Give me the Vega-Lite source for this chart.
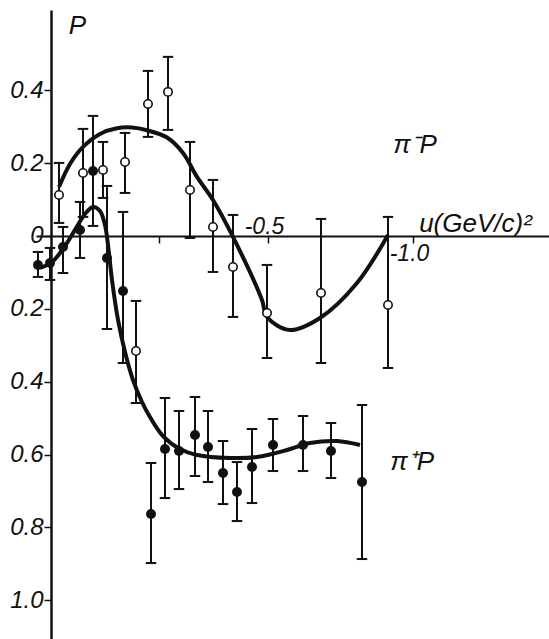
{
  "$schema": "https://vega.github.io/schema/vega-lite/v6.json",
  "width": 513,
  "height": 629,
  "autosize": "none",
  "padding": {"left": 36, "top": 10, "right": 0, "bottom": 0},
  "background": "white",
  "config": {"view": {"stroke": null}, "font": "Liberation Sans"},
  "datasets": {
    "points": [
      {"series": "minus", "u": 0.2207, "P": 0.1125, "hi": 0.2004, "lo": 0.0357},
      {"series": "minus", "u": 0.1379, "P": 0.1729, "hi": 0.2937, "lo": 0.0522},
      {"series": "minus", "u": 0.069, "P": 0.1812, "hi": 0.258, "lo": 0.1043},
      {"series": "minus", "u": -0.0069, "P": 0.2031, "hi": 0.2827, "lo": 0.118},
      {"series": "minus", "u": -0.0862, "P": 0.3623, "hi": 0.4529, "lo": 0.2718},
      {"series": "minus", "u": -0.1552, "P": 0.3953, "hi": 0.4914, "lo": 0.291},
      {"series": "minus", "u": -0.231, "P": 0.1263, "hi": 0.258, "lo": -0.0055},
      {"series": "minus", "u": -0.3103, "P": 0.0247, "hi": 0.1537, "lo": -0.0988},
      {"series": "minus", "u": -0.3793, "P": -0.0851, "hi": 0.0576, "lo": -0.2223},
      {"series": "minus", "u": -0.4966, "P": -0.2114, "hi": -0.0796, "lo": -0.3349},
      {"series": "minus", "u": -0.6828, "P": -0.1565, "hi": 0.0467, "lo": -0.3486},
      {"series": "minus", "u": -0.9138, "P": -0.1894, "hi": 0.0522, "lo": -0.3623},
      {"series": "minus", "u": -0.0448, "P": -0.3157, "hi": -0.1784, "lo": -0.4584},
      {"series": "plus", "u": 0.2931, "P": -0.0796, "hi": -0.0439, "lo": -0.1125},
      {"series": "plus", "u": 0.2517, "P": -0.0741, "hi": -0.0329, "lo": -0.1208},
      {"series": "plus", "u": 0.2069, "P": -0.0302, "hi": 0.0247, "lo": -0.1016},
      {"series": "plus", "u": 0.1483, "P": 0.0165, "hi": 0.0933, "lo": -0.0604},
      {"series": "plus", "u": 0.1034, "P": 0.1784, "hi": 0.3294, "lo": 0.0274},
      {"series": "plus", "u": 0.0552, "P": -0.0604, "hi": 0.1372, "lo": -0.2553},
      {"series": "plus", "u": 0.0, "P": -0.151, "hi": 0.0659, "lo": -0.3486},
      {"series": "plus", "u": -0.0966, "P": -0.7631, "hi": -0.6231, "lo": -0.8976},
      {"series": "plus", "u": -0.1448, "P": -0.5847, "hi": -0.4447, "lo": -0.7192},
      {"series": "plus", "u": -0.1931, "P": -0.5902, "hi": -0.4804, "lo": -0.6945},
      {"series": "plus", "u": -0.2483, "P": -0.5463, "hi": -0.4419, "lo": -0.6588},
      {"series": "plus", "u": -0.2931, "P": -0.5792, "hi": -0.4804, "lo": -0.6753},
      {"series": "plus", "u": -0.3448, "P": -0.6506, "hi": -0.5627, "lo": -0.7357},
      {"series": "plus", "u": -0.3931, "P": -0.7027, "hi": -0.6204, "lo": -0.7823},
      {"series": "plus", "u": -0.4448, "P": -0.6341, "hi": -0.5298, "lo": -0.7329},
      {"series": "plus", "u": -0.5172, "P": -0.5737, "hi": -0.5023, "lo": -0.6451},
      {"series": "plus", "u": -0.6207, "P": -0.5737, "hi": -0.4941, "lo": -0.6451},
      {"series": "plus", "u": -0.7172, "P": -0.5902, "hi": -0.5133, "lo": -0.6643},
      {"series": "plus", "u": -0.8241, "P": -0.6753, "hi": -0.4639, "lo": -0.8866}
    ],
    "fits": [
      {"series": "minus", "u": 0.2207, "P": 0.1345},
      {"series": "minus", "u": 0.1828, "P": 0.1975},
      {"series": "minus", "u": 0.1379, "P": 0.2443},
      {"series": "minus", "u": 0.0793, "P": 0.2800},
      {"series": "minus", "u": 0.0207, "P": 0.2955},
      {"series": "minus", "u": -0.031, "P": 0.2975},
      {"series": "minus", "u": -0.0828, "P": 0.2900},
      {"series": "minus", "u": -0.1517, "P": 0.2700},
      {"series": "minus", "u": -0.2069, "P": 0.2278},
      {"series": "minus", "u": -0.2552, "P": 0.162},
      {"series": "minus", "u": -0.3103, "P": 0.0988},
      {"series": "minus", "u": -0.3793, "P": -0.0027},
      {"series": "minus", "u": -0.4793, "P": -0.1757},
      {"series": "minus", "u": -0.4966, "P": -0.2223},
      {"series": "minus", "u": -0.5759, "P": -0.258},
      {"series": "minus", "u": -0.6793, "P": -0.2251},
      {"series": "minus", "u": -0.8069, "P": -0.129},
      {"series": "minus", "u": -0.9138, "P": 0.0027},
      {"series": "plus", "u": 0.2862, "P": -0.0878},
      {"series": "plus", "u": 0.2448, "P": -0.0714},
      {"series": "plus", "u": 0.2069, "P": -0.0357},
      {"series": "plus", "u": 0.1655, "P": 0.0165},
      {"series": "plus", "u": 0.131, "P": 0.0604},
      {"series": "plus", "u": 0.1034, "P": 0.0796},
      {"series": "plus", "u": 0.0793, "P": 0.0686},
      {"series": "plus", "u": 0.0621, "P": 0.0302},
      {"series": "plus", "u": 0.0517, "P": -0.0247},
      {"series": "plus", "u": 0.0379, "P": -0.1208},
      {"series": "plus", "u": 0.0172, "P": -0.2306},
      {"series": "plus", "u": -0.0069, "P": -0.3184},
      {"series": "plus", "u": -0.0345, "P": -0.3953},
      {"series": "plus", "u": -0.0655, "P": -0.4557},
      {"series": "plus", "u": -0.0931, "P": -0.4968},
      {"series": "plus", "u": -0.1379, "P": -0.549},
      {"series": "plus", "u": -0.1966, "P": -0.5847},
      {"series": "plus", "u": -0.2552, "P": -0.6012},
      {"series": "plus", "u": -0.369, "P": -0.6094},
      {"series": "plus", "u": -0.4621, "P": -0.6066},
      {"series": "plus", "u": -0.5655, "P": -0.5874},
      {"series": "plus", "u": -0.6448, "P": -0.5682},
      {"series": "plus", "u": -0.7379, "P": -0.5627},
      {"series": "plus", "u": -0.8172, "P": -0.5737}
    ],
    "labels": [
      {"label": "π⁻P", "u": -1.007, "P": 0.25},
      {"label": "π⁺P", "u": -0.997, "P": -0.62}
    ]
  },
  "encoding": {
    "x": {
      "field": "u",
      "type": "quantitative",
      "scale": {"domain": [-1.469, 0.3], "reverse": true, "nice": false, "zero": false},
      "axis": {
        "orient": "bottom",
        "offset": -403,
        "values": [-1, -0.5, -0.124],
        "labelExpr": "datum.value == -0.5 ? '-0.5' : (datum.value == -1 ? '-1.0' : '')",
        "grid": false,
        "domainColor": "#111",
        "domainWidth": 2,
        "tickColor": "#111",
        "tickWidth": 1.5,
        "tickSize": 7,
        "labelFont": "Liberation Sans",
        "labelFontStyle": "italic",
        "labelFontSize": 23,
        "labelColor": "#111",
        "labelPadding": {"condition": {"test": "datum.value == -0.5", "value": -28}, "value": -1},
        "labelOffset": -4,
        "labelFlush": false,
        "labelOverlap": false,
        "title": "u(GeV/c)²",
        "titleX": 439,
        "titleY": -5,
        "titleAlign": "center",
        "titleBaseline": "alphabetic",
        "titleFont": "Liberation Sans",
        "titleFontStyle": "italic",
        "titleFontWeight": "normal",
        "titleFontSize": 26,
        "titleColor": "#111"
      }
    },
    "y": {
      "field": "P",
      "type": "quantitative",
      "scale": {"domain": [-1.106, 0.62], "nice": false, "zero": false},
      "axis": {
        "orient": "left",
        "offset": -15,
        "values": [-1, -0.8, -0.6, -0.4, -0.2, 0, 0.2, 0.4],
        "labelExpr": "datum.value == 0 ? '0' : format(abs(datum.value), '.1f')",
        "grid": false,
        "domainColor": "#111",
        "domainWidth": 2.5,
        "tickColor": "#111",
        "tickWidth": 1.5,
        "tickSize": 7,
        "labelFont": "Liberation Sans",
        "labelFontStyle": "italic",
        "labelFontSize": 24,
        "labelColor": "#111",
        "labelPadding": 1,
        "labelOverlap": false,
        "title": "P",
        "titleAngle": 0,
        "titleX": 26,
        "titleY": 23,
        "titleAlign": "center",
        "titleBaseline": "alphabetic",
        "titleFont": "Liberation Sans",
        "titleFontStyle": "italic",
        "titleFontWeight": "normal",
        "titleFontSize": 26,
        "titleColor": "#111"
      }
    }
  },
  "layer": [
    {
      "data": {"name": "fits"},
      "mark": {"type": "line", "interpolate": "catmull-rom", "strokeWidth": 4, "color": "#111"},
      "encoding": {"detail": {"field": "series"}}
    },
    {
      "data": {"name": "points"},
      "mark": {"type": "rule", "strokeWidth": 2, "color": "#111"},
      "encoding": {
        "y": {"field": "lo", "type": "quantitative"},
        "y2": {"field": "hi"}
      }
    },
    {
      "data": {"name": "points"},
      "mark": {"type": "point", "shape": "M-1,0H1", "size": 110, "filled": false, "strokeWidth": 2, "color": "#111", "opacity": 1},
      "encoding": {"y": {"field": "hi", "type": "quantitative"}}
    },
    {
      "data": {"name": "points"},
      "mark": {"type": "point", "shape": "M-1,0H1", "size": 110, "filled": false, "strokeWidth": 2, "color": "#111", "opacity": 1},
      "encoding": {"y": {"field": "lo", "type": "quantitative"}}
    },
    {
      "data": {"name": "points"},
      "transform": [{"filter": "datum.series == 'plus'"}],
      "mark": {"type": "circle", "size": 100, "color": "#111", "opacity": 1}
    },
    {
      "data": {"name": "points"},
      "transform": [{"filter": "datum.series == 'minus'"}],
      "mark": {"type": "point", "shape": "circle", "size": 70, "fill": "white", "stroke": "#111", "strokeWidth": 1.6, "opacity": 1}
    },
    {
      "data": {"name": "labels"},
      "mark": {"type": "text", "font": "Liberation Sans", "fontStyle": "italic", "fontSize": 26, "align": "center", "baseline": "middle", "color": "#111"},
      "encoding": {"text": {"field": "label"}}
    }
  ]
}
